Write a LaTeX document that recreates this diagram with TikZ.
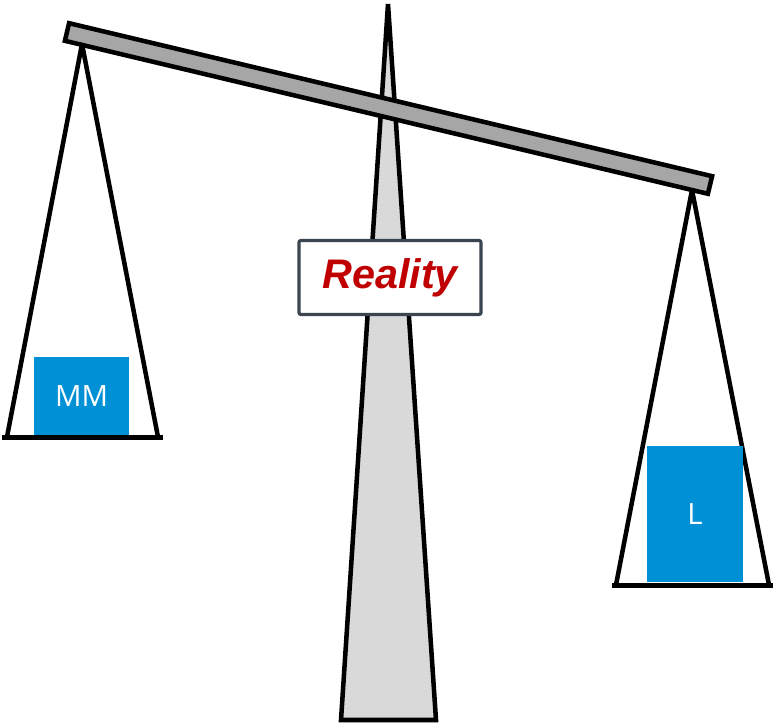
\documentclass[tikz,border=0pt]{standalone}
\usepackage{fontspec}
\setmainfont{Liberation Sans}
\newfontfamily\weightfont{Open Sans}
\definecolor{weightblue}{HTML}{0090D6}
\definecolor{beamgray}{HTML}{A6A6A6}
\definecolor{pillargray}{HTML}{D9D9D9}
\definecolor{realred}{HTML}{C00000}
\definecolor{boxslate}{HTML}{3A4550}
\begin{document}
\begin{tikzpicture}[x=0.75pt,y=-0.75pt,
  blk/.style={draw=black,line width=3.4pt,line join=miter},
  weight/.style={fill=weightblue,inner sep=0pt,text=white,font=\weightfont\fontsize{22}{26}\selectfont},
  signbox/.style={draw=boxslate,line width=2.4pt,fill=white,rounded corners=1.5pt,minimum width=136.5pt,minimum height=55.5pt,inner sep=0pt,font=\bfseries\itshape\fontsize{31}{36}\selectfont,text=realred}]
\useasboundingbox (0,0) rectangle (774,724);
% pillar
\draw[blk,fill=pillargray] (388,4) -- (436,720) -- (341,720) -- cycle;
% left strings
\coordinate (lp) at (82,44);
\coordinate (lbl) at (7,437);
\coordinate (lbr) at (158,437);
\draw[blk] (lbl) -- (lp) -- (lbr);
% right strings
\coordinate (rp) at (692,190);
\coordinate (rbl) at (616,585);
\coordinate (rbr) at (769,585);
\draw[blk] (rbl) -- (rp) -- (rbr);
% beam
\draw[blk,fill=beamgray] (64.9,40.8) -- (69.1,23.2) -- (712.1,176.2) -- (707.9,193.8) -- cycle;
% weights
\node[weight,minimum width=71.25pt,minimum height=60pt] (mm) at (81.5,396.5) {MM};
\node[weight,minimum width=72pt,minimum height=102pt] (l) at (695,514) {L};
% pan bottoms
\coordinate (lb1) at (2,437.5);
\coordinate (lb2) at (163,437.5);
\draw[blk] (lb1) -- (lb2);
\coordinate (rb1) at (612,585.5);
\coordinate (rb2) at (773,585.5);
\draw[blk] (rb1) -- (rb2);
% sign
\node[signbox] (sign) at (390,277.5) {\raisebox{-2pt}{Reality}};
\end{tikzpicture}
\end{document}
